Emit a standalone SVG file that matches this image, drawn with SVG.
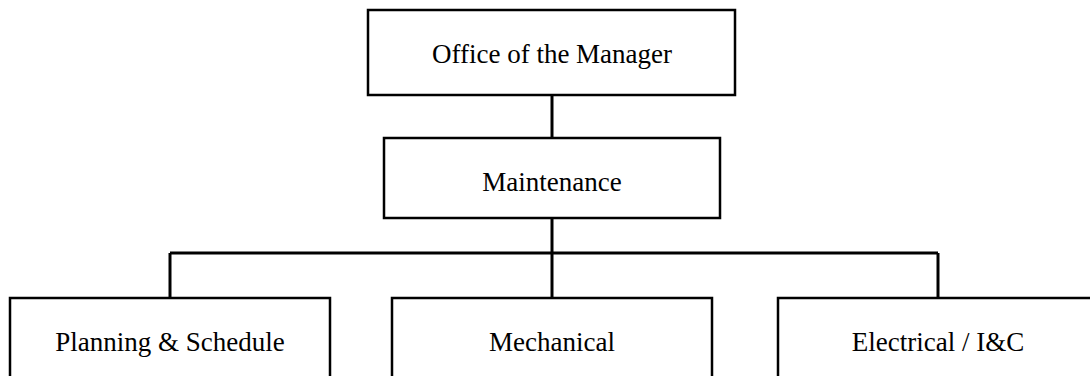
<svg xmlns="http://www.w3.org/2000/svg" width="1090" height="376" viewBox="0 0 1090 376">
<style>
.box{fill:#fff;stroke:#000;stroke-width:2.5}
.lbl{font-family:"Liberation Serif","Times New Roman",serif;font-size:27px;fill:#000;text-anchor:middle}
.conn{stroke:#000;stroke-width:3;fill:none}
</style>
<rect width="1090" height="376" fill="#fff"/>
<g id="connectors">
<line class="conn" x1="552" y1="95" x2="552" y2="138"/>
<line class="conn" x1="552" y1="218" x2="552" y2="298"/>
<line class="conn" x1="170" y1="253" x2="938" y2="253"/>
<line class="conn" x1="170" y1="253" x2="170" y2="298"/>
<line class="conn" x1="938" y1="253" x2="938" y2="298"/>
</g>
<g id="manager">
<rect class="box" x="368" y="10" width="367" height="85"/>
<text class="lbl" x="552" y="63">Office of the Manager</text>
</g>
<g id="maintenance">
<rect class="box" x="384" y="138" width="336" height="80"/>
<text class="lbl" x="552" y="191">Maintenance</text>
</g>
<g id="planning">
<rect class="box" x="10" y="298" width="320" height="100"/>
<text class="lbl" x="170" y="351">Planning &amp; Schedule</text>
</g>
<g id="mechanical">
<rect class="box" x="392" y="298" width="320" height="100"/>
<text class="lbl" x="552" y="351">Mechanical</text>
</g>
<g id="electrical">
<rect class="box" x="778" y="298" width="320" height="100"/>
<text class="lbl" x="938" y="351">Electrical / I&amp;C</text>
</g>
</svg>
